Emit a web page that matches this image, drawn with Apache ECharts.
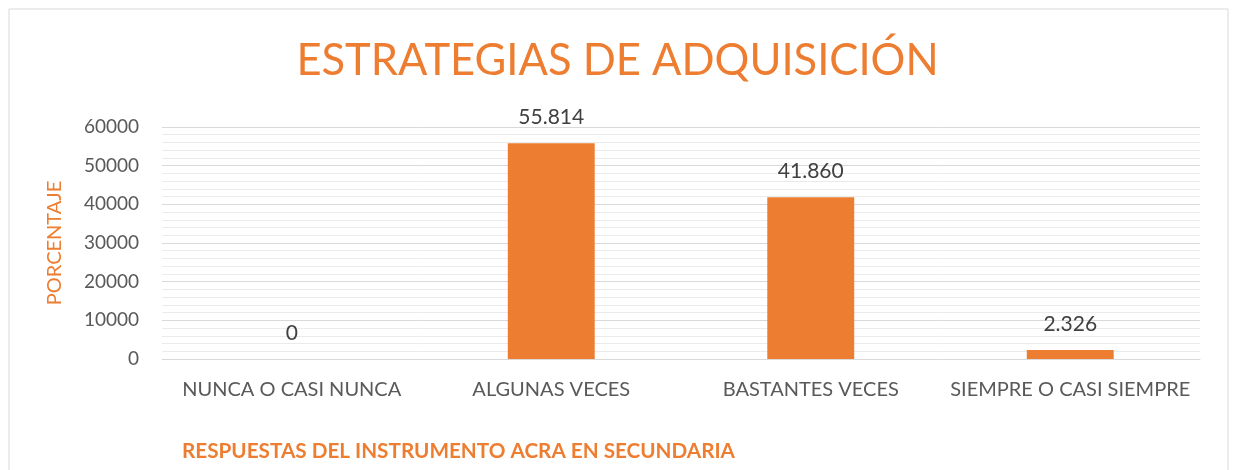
<!DOCTYPE html>
<html>
<head>
<meta charset="utf-8">
<script src="https://cdn.jsdelivr.net/npm/echarts@6/dist/echarts.min.js"></script>
<style>
html,body{margin:0;padding:0;background:#fff;}
#chart{width:1235px;height:470px;}
</style>
</head>
<body>
<div id="chart"></div>
<script>
const categories = ["NUNCA O CASI NUNCA", "ALGUNAS VECES", "BASTANTES VECES", "SIEMPRE O CASI SIEMPRE"];
const values = [0, 55814, 41860, 2326];
const yTicks = [0, 10000, 20000, 30000, 40000, 50000, 60000];
const titleText = 'ESTRATEGIAS DE ADQUISICIÓN';
const xAxisTitle = 'RESPUESTAS DEL INSTRUMENTO ACRA EN SECUNDARIA';
const yAxisTitle = 'PORCENTAJE';

const ORANGE = '#ED7D31';
const FONT = 'Lato, "Open Sans", sans-serif';

function fmt(v) {
  return String(v).replace(/\B(?=(\d{3})+(?!\d))/g, '.');
}

const chart = echarts.init(document.getElementById('chart'));
chart.setOption({
  animation: false,
  backgroundColor: '#fff',
  graphic: [{
    type: 'rect',
    shape: {x: 9, y: 9, width: 1219, height: 470},
    style: {fill: 'none', stroke: '#d9d9d9', lineWidth: 1}
  }, {
    type: 'text',
    left: 182,
    top: 441,
    style: {text: xAxisTitle, fill: ORANGE, font: 'bold 20.7px Lato, "Open Sans", sans-serif'}
  }],
  title: {
    text: titleText,
    left: 'center',
    top: 34,
    textStyle: {color: ORANGE, fontFamily: FONT, fontWeight: 'normal', fontSize: 43.5}
  },
  grid: {left: 162, right: 35, top: 127, bottom: 111, containLabel: false, outerBoundsMode: 'none'},
  xAxis: {
    type: 'category',
    data: categories,
    axisLine: {show: true, lineStyle: {color: '#d9d9d9'}},
    axisTick: {show: false},
    axisLabel: {color: '#595959', fontFamily: FONT, fontSize: 20, margin: 21, interval: 0}
  },
  yAxis: {
    type: 'value',
    min: yTicks[0],
    max: yTicks[yTicks.length - 1],
    interval: 10000,
    axisLine: {show: false},
    axisTick: {show: false},
    axisLabel: {color: '#595959', fontFamily: FONT, fontSize: 19, margin: 23, formatter: v => String(v)},
    splitLine: {lineStyle: {color: '#d9d9d9', width: 1}},
    minorTick: {show: false, splitNumber: 5},
    minorSplitLine: {show: true, lineStyle: {color: '#ebebeb', width: 1}},
    name: yAxisTitle,
    nameLocation: 'middle',
    nameGap: 97,
    nameRotate: 90,
    nameTextStyle: {color: ORANGE, fontFamily: FONT, fontSize: 20}
  },
  series: [{
    type: 'bar',
    data: values,
    barWidth: '33.5%',
    itemStyle: {color: ORANGE},
    label: {
      show: true,
      position: 'top',
      distance: 15,
      color: '#404040',
      fontFamily: FONT,
      fontSize: 21,
      formatter: p => fmt(p.value)
    }
  }]
});
</script>
</body>
</html>
